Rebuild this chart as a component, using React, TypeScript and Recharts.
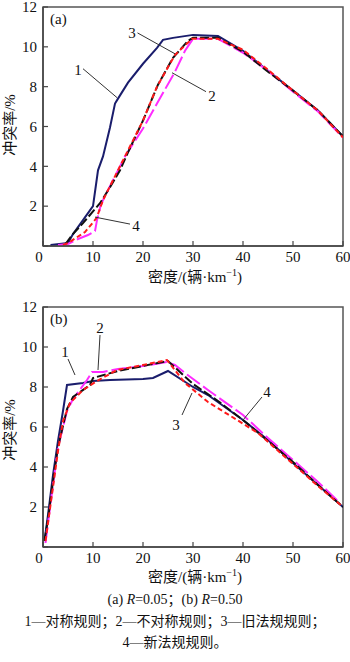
import React from 'react';
import { LineChart, Line, XAxis, YAxis, ReferenceArea, ReferenceLine, ReferenceDot } from 'recharts';

// ---- axes ----
const densityTicks = [0, 10, 20, 30, 40, 50, 60];
const rateTicks = [0, 2, 4, 6, 8, 10, 12];

// ---- panel (a) R=0.05 ----
const a1Density = [1.5, 5, 6, 8, 10, 10.5, 11, 12, 13.4, 14.4, 15, 17, 20, 22.8, 24, 26, 30, 35, 40, 45, 50, 55, 60];
const a1Rate = [0.05, 0.15, 0.6, 1.3, 2.0, 2.9, 3.8, 4.5, 5.95, 7.15, 7.4, 8.2, 9.15, 9.95, 10.35, 10.45, 10.6, 10.55, 9.8, 8.8, 7.8, 6.8, 5.5];

const a2Density = [4, 5, 8.4, 10.7, 12, 14, 17, 20, 22.8, 26.4, 29.8, 35, 40, 45, 50, 55, 60];
const a2Rate = [0.05, 0.15, 0.7, 1.4, 2.3, 3.3, 4.8, 6.3, 8.0, 9.6, 10.4, 10.4, 9.85, 8.85, 7.8, 6.8, 5.45];

const a3Density = [4.5, 5.8, 8, 11.4, 13.4, 15.4, 17, 20, 23, 26, 29, 30, 35, 40, 45, 50, 55, 60];
const a3Rate = [0.1, 0.55, 1.15, 2.15, 2.95, 3.8, 4.7, 6.3, 8.1, 9.45, 10.3, 10.45, 10.45, 9.75, 8.75, 7.8, 6.8, 5.5];

const a4Density = [3, 5, 7, 9, 10.4, 10.8, 11.5, 12, 14, 16.4, 20, 22.8, 26.4, 28.4, 30, 35, 40, 45, 50, 55, 60];
const a4Rate = [0.05, 0.1, 0.35, 0.55, 0.75, 1.3, 2.0, 2.3, 3.3, 4.5, 5.9, 7.15, 8.75, 9.8, 10.4, 10.4, 9.7, 8.8, 7.75, 6.75, 5.45];

// ---- panel (b) R=0.50 ----
const b1Density = [0.3, 1, 2, 3, 4, 4.8, 8, 10, 13.4, 20, 22, 25, 30, 33, 40, 45, 50, 55, 60];
const b1Rate = [0.3, 1.6, 3.6, 5.3, 6.8, 8.1, 8.2, 8.3, 8.35, 8.4, 8.45, 8.8, 8.0, 7.6, 6.35, 5.35, 4.2, 3.1, 2.0];

const b2Density = [0.5, 1, 2, 3, 4, 5.4, 8, 10.8, 14.8, 20, 24.8, 28.4, 33, 43, 50, 55, 60];
const b2Rate = [0.3, 1.2, 3.0, 4.8, 6.3, 7.2, 7.85, 8.3, 8.85, 9.1, 9.35, 8.2, 7.25, 5.7, 4.15, 3.05, 2.0];

const b3Density = [0.3, 1, 2, 3, 4.8, 6, 9.4, 10, 15, 20, 25, 30, 35, 40, 45, 50, 55, 60];
const b3Rate = [0.3, 1.4, 3.3, 5.0, 6.9, 7.5, 8.1, 8.45, 8.8, 9.05, 9.3, 8.15, 7.3, 6.35, 5.3, 4.25, 3.1, 2.0];

const b4Density = [0.5, 1, 2, 3, 4.8, 6, 8.8, 9.8, 12, 15, 20, 24.8, 26.4, 28.4, 33, 40, 45, 50, 55, 59];
const b4Rate = [0.2, 1.2, 3.1, 5.0, 6.8, 7.4, 8.35, 8.75, 8.75, 8.9, 9.05, 9.25, 9.1, 8.7, 7.85, 6.6, 5.45, 4.35, 3.25, 2.3];

// ---- annotation anchors (data space): label, label x/y, leader from -> to ----
const annotA = [
  { t: '1', lx: 7, ly: 8.85, x1: 8, y1: 8.9, x2: 14.8, y2: 7.45 },
  { t: '3', lx: 17.8, ly: 10.7, x1: 18.9, y1: 10.7, x2: 26.4, y2: 9.65 },
  { t: '2', lx: 33.8, ly: 7.55, x1: 32.6, y1: 7.75, x2: 25.8, y2: 8.7 },
  { t: '4', lx: 18.6, ly: 1.0, x1: 17.4, y1: 1.1, x2: 10.4, y2: 1.45 },
];
const annotB = [
  { t: '1', lx: 4.4, ly: 9.75, x1: 5, y1: 9.4, x2: 6.4, y2: 8.6 },
  { t: '2', lx: 11.4, ly: 10.95, x1: 11.4, y1: 10.6, x2: 11, y2: 8.85 },
  { t: '3', lx: 26.6, ly: 6.1, x1: 27.8, y1: 6.6, x2: 29.8, y2: 7.7 },
  { t: '4', lx: 44.8, ly: 7.75, x1: 43.8, y1: 7.5, x2: 40, y2: 6.35 },
];

const zip = (xs: number[], ys: number[]) => xs.map((x, i) => ({ x, y: ys[i] }));

const SERIF = "'Liberation Serif', 'Noto Sans CJK SC', serif";
const CJK = "'Liberation Serif', 'Noto Sans CJK SC', serif";
const AXIS = '#444';

const XTick = (props: any) => {
  const { x, y, payload } = props;
  return (
    <g>
      <line x1={x} x2={x} y1={y} y2={y - 5} stroke={AXIS} strokeWidth={1.2} />
      <text x={payload.value === 0 ? x - 4 : x} y={y + 16} textAnchor="middle" fontFamily={SERIF} fontSize={15} fill="#111">
        {payload.value}
      </text>
    </g>
  );
};

const YTick = (props: any) => {
  const { x, y, payload } = props;
  return (
    <g>
      <line x1={x} x2={x + 5} y1={y} y2={y} stroke={AXIS} strokeWidth={1.2} />
      {payload.value !== 0 && (
        <text x={x - 6} y={y} dy="0.35em" textAnchor="end" fontFamily={SERIF} fontSize={15} fill="#111">
          {payload.value}
        </text>
      )}
    </g>
  );
};

const TextMark = (t: string, anchor: string = 'middle') => (p: any) => (
  <text x={p.cx} y={p.cy} dy="0.35em" textAnchor={anchor} fontFamily={SERIF} fontSize={15} fill="#111">
    {t}
  </text>
);

const Panel = ({ height, top, bottom, s1, s2, s3, s4, annots, tag }: any) => (
  <LineChart width={350} height={height} margin={{ top, right: 7, left: 42, bottom }}>
    <XAxis
      type="number"
      dataKey="x"
      domain={[0, 60]}
      ticks={densityTicks}
      height={1}
      tickSize={0}
      tickMargin={0}
      tickLine={false}
      axisLine={{ stroke: AXIS, strokeWidth: 1.5 }}
      tick={<XTick />}
      interval={0}
      allowDataOverflow
    />
    <YAxis
      type="number"
      dataKey="y"
      domain={[0, 12]}
      ticks={rateTicks}
      width={1}
      tickSize={0}
      tickMargin={0}
      tickLine={false}
      axisLine={{ stroke: AXIS, strokeWidth: 1.5 }}
      tick={<YTick />}
      interval={0}
      allowDataOverflow
    />
    <ReferenceArea x1={0} x2={60} y1={0} y2={12} fill="none" stroke="#555" strokeWidth={1.5} ifOverflow="visible" />
    <Line data={zip(s1.d, s1.r)} dataKey="y" stroke="#1a1d6c" strokeWidth={2} dot={false} isAnimationActive={false} />
    <Line data={zip(s4.d, s4.r)} dataKey="y" stroke="#ff2bff" strokeWidth={2} strokeDasharray="16 4" dot={false} isAnimationActive={false} />
    <Line data={zip(s3.d, s3.r)} dataKey="y" stroke="#111111" strokeWidth={2} strokeDasharray="9 3" dot={false} isAnimationActive={false} />
    <Line data={zip(s2.d, s2.r)} dataKey="y" stroke="#ff1a1a" strokeWidth={2} strokeDasharray="5 3" dot={false} isAnimationActive={false} />
    {annots.map((a: any, i: number) => (
      <ReferenceLine key={'l' + i} segment={[{ x: a.x1, y: a.y1 }, { x: a.x2, y: a.y2 }]} stroke="#333" strokeWidth={1} />
    ))}
    {annots.map((a: any, i: number) => (
      <ReferenceDot key={'t' + i} x={a.lx} y={a.ly} r={0} shape={TextMark(a.t)} />
    ))}
    <ReferenceDot x={1.4} y={11.4} r={0} shape={TextMark(tag, 'start')} />
  </LineChart>
);

const Sup = () => (
  <span style={{ fontSize: 10, position: 'relative', top: -6 }}>−1</span>
);

const XTitle = ({ top }: { top: number }) => (
  <div style={{ position: 'absolute', left: 95, top, width: 200, textAlign: 'center', fontFamily: CJK, fontSize: 15, lineHeight: '20px', color: '#111' }}>
    密度/(辆·km<Sup />)
  </div>
);

const YTitle = ({ cy }: { cy: number }) => (
  <div style={{ position: 'absolute', left: 10 - 50, top: cy - 10, width: 100, height: 20, textAlign: 'center', fontFamily: CJK, fontSize: 15, lineHeight: '20px', color: '#111', transform: 'rotate(-90deg)' }}>
    冲突率/%
  </div>
);

export default function App() {
  return (
    <div style={{ position: 'absolute', left: 0, top: 0, width: 350, height: 662, background: '#fff', overflow: 'hidden' }}>
      <div style={{ position: 'absolute', left: 0, top: 0 }}>
        <Panel
          height={290}
          top={7}
          bottom={43}
          s1={{ d: a1Density, r: a1Rate }}
          s2={{ d: a2Density, r: a2Rate }}
          s3={{ d: a3Density, r: a3Rate }}
          s4={{ d: a4Density, r: a4Rate }}
          annots={annotA}
          tag="(a)"
        />
      </div>
      <div style={{ position: 'absolute', left: 0, top: 290 }}>
        <Panel
          height={300}
          top={17}
          bottom={42}
          s1={{ d: b1Density, r: b1Rate }}
          s2={{ d: b2Density, r: b2Rate }}
          s3={{ d: b3Density, r: b3Rate }}
          s4={{ d: b4Density, r: b4Rate }}
          annots={annotB}
          tag="(b)"
        />
      </div>
      <XTitle top={267} />
      <XTitle top={567} />
      <YTitle cy={125} />
      <YTitle cy={430} />
      <div style={{ position: 'absolute', left: 0, top: 590, width: 350, textAlign: 'center', fontFamily: CJK, fontSize: 14, lineHeight: '20px', color: '#111' }}>
        (a) <i>R</i>=0.05；(b) <i>R</i>=0.50
      </div>
      <div style={{ position: 'absolute', left: 0, top: 612, width: 350, textAlign: 'center', fontFamily: CJK, fontSize: 14, lineHeight: '20px', color: '#111', whiteSpace: 'nowrap' }}>
        1—对称规则；2—不对称规则；3—旧法规规则；
      </div>
      <div style={{ position: 'absolute', left: 0, top: 633, width: 350, textAlign: 'center', fontFamily: CJK, fontSize: 14, lineHeight: '20px', color: '#111' }}>
        4—新法规规则。
      </div>
    </div>
  );
}
